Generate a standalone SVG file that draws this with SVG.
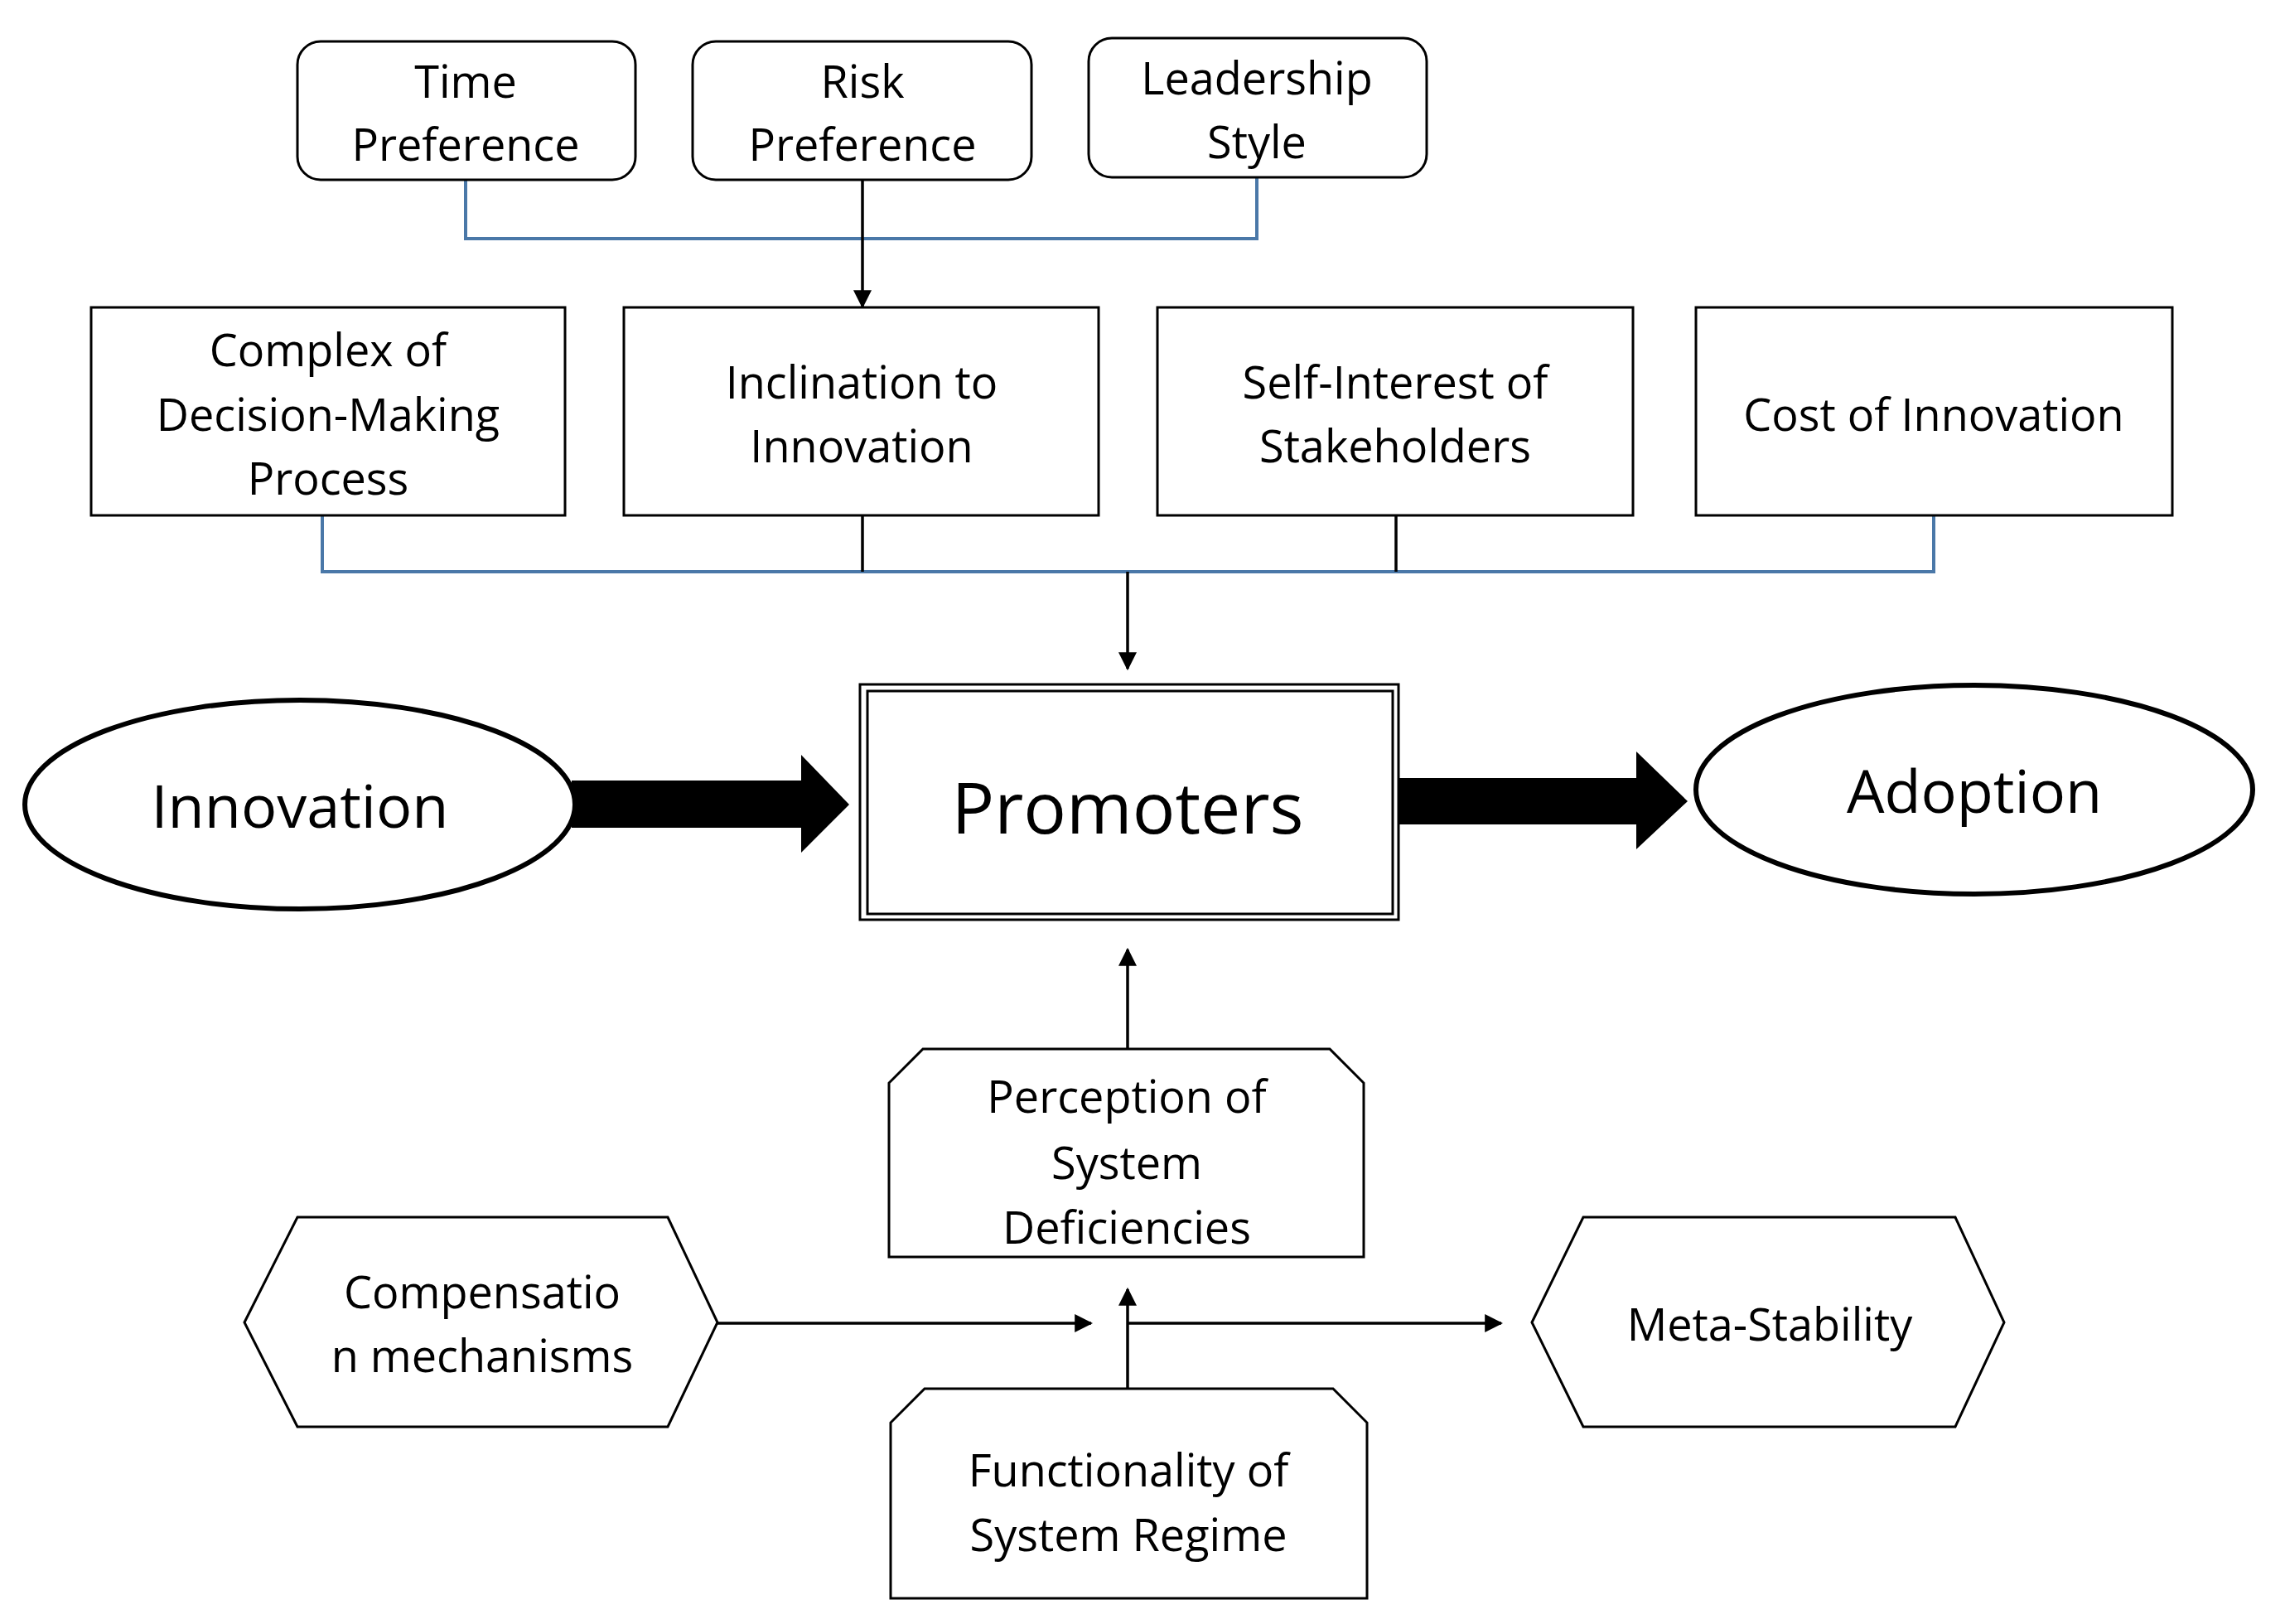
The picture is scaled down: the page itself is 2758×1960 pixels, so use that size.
<svg xmlns="http://www.w3.org/2000/svg" width="2758" height="1960" viewBox="0 0 2758 1960">
<style>
.b{fill:#fff;stroke:#000;stroke-width:3}
.t{font-family:"Open Sans","Liberation Sans",sans-serif;font-size:54px;text-anchor:middle;dominant-baseline:central;fill:#000}
.blue{fill:none;stroke:#4a78a8;stroke-width:4}
.k{fill:none;stroke:#000;stroke-width:3.5}
</style>
<defs>
<marker id="a" markerWidth="8" markerHeight="8" refX="7" refY="4" orient="auto" markerUnits="userSpaceOnUse" viewBox="0 0 8 8"><path d="M0,0L8,4L0,8z"/></marker>
<marker id="ah" viewBox="0 0 10 10" refX="9" refY="5" markerWidth="22" markerHeight="22" orient="auto" markerUnits="userSpaceOnUse"><path d="M0,0L10,5L0,10z"/></marker>
</defs>
<rect width="2758" height="1960" fill="#fff"/>
<g id="connectors">
<polyline class="blue" points="562,217 562,288 1517,288 1517,214"/>
<line class="k" x1="1041" y1="217" x2="1041" y2="370" marker-end="url(#ah)"/>
<polyline class="blue" points="389,622 389,690 2334,690 2334,622"/>
<line class="k" x1="1041" y1="622" x2="1041" y2="690"/>
<line class="k" x1="1685" y1="622" x2="1685" y2="690"/>
<line class="k" x1="1361" y1="690" x2="1361" y2="807" marker-end="url(#ah)"/>
<polygon points="690,942 967,942 967,911 1025,971 967,1029 967,999 690,999" fill="#000"/>
<polygon points="1688,939 1975,939 1975,907 2037,967 1975,1025 1975,995 1688,995" fill="#000"/>
<line class="k" x1="1361" y1="1266" x2="1361" y2="1146" marker-end="url(#ah)"/>
<line class="k" x1="866" y1="1597" x2="1317" y2="1597" marker-end="url(#ah)"/>
<line class="k" x1="1361" y1="1676" x2="1361" y2="1556" marker-end="url(#ah)"/>
<line class="k" x1="1361" y1="1597" x2="1812" y2="1597" marker-end="url(#ah)"/>
</g>
<g id="time"><rect class="b" x="359" y="50" width="408" height="167" rx="28"/><text class="t" x="562" y="97">Time</text><text class="t" x="562" y="173">Preference</text></g>
<g id="risk"><rect class="b" x="836" y="50" width="409" height="167" rx="28"/><text class="t" x="1041" y="97">Risk</text><text class="t" x="1041" y="173">Preference</text></g>
<g id="leadership"><rect class="b" x="1314" y="46" width="408" height="168" rx="28"/><text class="t" x="1517" y="93">Leadership</text><text class="t" x="1517" y="170">Style</text></g>
<g id="complex"><rect class="b" x="110" y="371" width="572" height="251"/><text class="t" x="396" y="421">Complex of</text><text class="t" x="396" y="499">Decision-Making</text><text class="t" x="396" y="576">Process</text></g>
<g id="inclination"><rect class="b" x="753" y="371" width="573" height="251"/><text class="t" x="1040" y="460">Inclination to</text><text class="t" x="1040" y="537">Innovation</text></g>
<g id="self"><rect class="b" x="1397" y="371" width="574" height="251"/><text class="t" x="1684" y="460">Self-Interest of</text><text class="t" x="1684" y="537">Stakeholders</text></g>
<g id="cost"><rect class="b" x="2047" y="371" width="575" height="251"/><text class="t" x="2334" y="499">Cost of Innovation</text></g>
<g id="promoters"><rect class="b" x="1038" y="826" width="650" height="284"/><rect class="b" x="1047" y="834" width="634" height="269"/><text class="t" x="1361" y="972" style="font-size:86px">Promoters</text></g>
<g id="innovation"><ellipse class="b" style="stroke-width:6" cx="362" cy="971" rx="332" ry="126"/><text class="t" x="362" y="971" style="font-size:72px">Innovation</text></g>
<g id="adoption"><ellipse class="b" style="stroke-width:6" cx="2383" cy="953" rx="336" ry="126"/><text class="t" x="2383" y="953" style="font-size:72px">Adoption</text></g>
<g id="perception"><polygon class="b" points="1114,1266 1605,1266 1646,1307 1646,1517 1073,1517 1073,1307"/><text class="t" x="1360" y="1322">Perception of</text><text class="t" x="1360" y="1402">System</text><text class="t" x="1360" y="1480">Deficiencies</text></g>
<g id="compensation"><polygon class="b" points="295,1596 359,1469 806,1469 866,1596 806,1722 359,1722"/><text class="t" x="582" y="1558">Compensatio</text><text class="t" x="582" y="1635">n mechanisms</text></g>
<g id="meta"><polygon class="b" points="1849,1596 1911,1469 2360,1469 2419,1596 2360,1722 1911,1722"/><text class="t" x="2136" y="1597">Meta-Stability</text></g>
<g id="functionality"><polygon class="b" points="1116,1676 1609,1676 1650,1717 1650,1929 1075,1929 1075,1717"/><text class="t" x="1362" y="1773">Functionality of</text><text class="t" x="1362" y="1851">System Regime</text></g>
</svg>
